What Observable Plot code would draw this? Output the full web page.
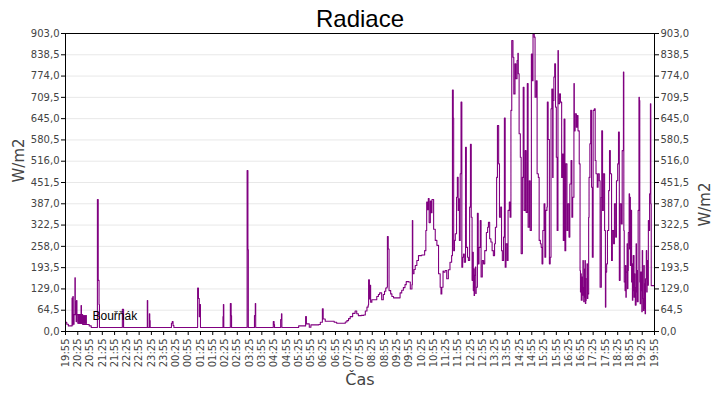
<!DOCTYPE html>
<html><head><meta charset="utf-8">
<script src="https://cdn.jsdelivr.net/npm/d3@7"></script>
<script src="https://cdn.jsdelivr.net/npm/@observablehq/plot@0.6"></script>
<style>
body{margin:0;background:#fff;}
#wrap{position:relative;width:720px;height:400px;}
#title{position:absolute;left:0;top:5px;width:720px;text-align:center;font:24px "Liberation Sans",Arial,sans-serif;color:#000;line-height:normal;}
</style></head><body>
<div id="wrap"><div id="title"></div></div>
<script>
const chartTitle = "Radiace";
const yLabel = "W/m2";
const xLabel = "Čas";
const seriesName = "Bouřňák";

const yTicks = [0, 64.5, 129, 193.5, 258, 322.5, 387, 451.5, 516, 580.5, 645, 709.5, 774, 838.5, 903];
const xTickLabels = ["19:55","20:25","20:55","21:25","21:55","22:25","22:55","23:25","23:55","00:25","00:55","01:25","01:55","02:25","02:55","03:25","03:55","04:25","04:55","05:25","05:55","06:25","06:55","07:25","07:55","08:25","08:55","09:25","09:55","10:25","10:55","11:25","11:55","12:25","12:55","13:25","13:55","14:25","14:55","15:25","15:55","16:25","16:55","17:25","17:55","18:25","18:55","19:25","19:55"];

// [time, W/m2]
const evening = [["19:55",28],["19:58",22],["20:02",17],["20:10",17],["20:11",101],["20:12",20],["20:13",106],["20:14",51],["20:15",22],["20:16",51],["20:18",163],["20:19",51],["20:20",91],["20:21",30],["20:22",94],["20:23",51],["20:25",25],["20:26",51],["20:28",30],["20:29",51],["20:30",25],["20:31",51],["20:33",79],["20:34",51],["20:35",25],["20:36",51],["20:37",21],["20:46",21],["20:53",17],["20:58",12],["21:12",12],["21:13",400],["21:15",155],["21:17",82],["21:18",12],["22:13",12],["22:14",67],["22:16",67],["22:17",12],["23:14",12],["23:15",94],["23:16",12],["23:19",12],["23:20",54],["23:21",33],["23:22",12]];
const night = [["00:13",12],["00:14",25],["00:16",30],["00:18",18],["00:20",12],["01:17",12],["01:18",132],["01:20",100],["01:22",45],["01:24",82],["01:25",12],["02:19",12],["02:20",45],["02:21",82],["02:22",12],["02:37",12],["02:38",85],["02:40",48],["02:41",12],["03:18",12],["03:19",488],["03:21",248],["03:22",12],["03:36",12],["03:37",48],["03:39",85],["03:40",12],["04:22",12],["04:23",30],["04:25",21],["04:26",12],["04:40",12],["04:41",36],["04:43",54],["04:44",12],["05:24",12]];
const morning = [["05:25",17],["05:41",17],["05:42",45],["05:44",23],["05:51",13],["05:55",20],["06:14",21],["06:18",28],["06:22",28],["06:23",69],["06:25",38],["06:30",31],["06:46",31],["06:52",28],["06:58",25],["07:15",25],["07:19",29],["07:23",33],["07:27",39],["07:31",45],["07:37",55],["07:43",62],["07:47",54],["07:51",48],["07:58",49],["08:04",50],["08:08",62],["08:12",74],["08:15",80],["08:16",157],["08:18",99],["08:19",140],["08:21",89],["08:24",96],["08:32",96],["08:36",106],["08:40",112],["08:43",117],["08:48",96],["08:52",112],["08:55",122],["08:58",132],["09:01",135],["09:02",288],["09:04",250],["09:06",124],["09:10",114],["09:13",106],["09:17",102],["09:29",102],["09:33",117],["09:37",125],["09:41",133],["09:45",142],["09:48",151],["09:54",150],["09:58",129],["10:02",142],["10:03",336],["10:04",175],["10:07",188],["10:10",200],["10:14",215],["10:18",230],["10:26",232],["10:33",245],["10:36",306],["10:38",392],["10:40",369],["10:42",403],["10:44",330],["10:47",395],["10:49",360],["10:51",400],["10:55",310],["10:59",276],["11:03",261],["11:07",175],["11:11",134],["11:13",114],["11:15",134],["11:18",183],["11:19",180],["11:23",185],["11:27",160],["11:31",187],["11:35",210],["11:39",230]];
const midday = [["11:41",732],["11:43",647],["11:44",245],["11:46",276],["11:48",296],["11:51",407],["11:53",467],["11:55",367],["11:57",402],["11:58",276],["12:00",478],["12:02",695],["12:04",195],["12:06",225],["12:08",235],["12:10",210],["12:13",558],["12:15",255],["12:18",225],["12:20",215],["12:23",377],["12:25",567],["12:27",346],["12:29",155],["12:30",240],["12:32",124],["12:33",190],["12:34",109],["12:35",170],["12:37",195],["12:38",115],["12:39",134],["12:42",358],["12:44",205],["12:46",255],["12:49",336],["12:51",165],["12:54",215],["12:57",205],["13:00",245],["13:04",300],["13:07",316],["13:09",331],["13:12",281],["13:15",271],["13:18",245],["13:21",230],["13:24",266],["13:26",316],["13:29",467],["13:31",624],["13:34",508],["13:36",346],["13:39",377],["13:41",245],["13:43",215],["13:46",286],["13:48",647],["13:50",195],["13:52",266],["13:55",215],["13:57",367],["14:00",392],["14:02",346],["14:04",670],["14:06",882],["14:09",831],["14:11",720],["14:14",811],["14:16",766],["14:19",821],["14:21",843],["14:22",781],["14:24",599],["14:27",528],["14:29",236],["14:32",467],["14:34",740],["14:36",367],["14:39",548],["14:41",361],["14:44",751],["14:46",316],["14:49",457],["14:51",306],["14:54",841],["14:56",760],["14:58",902],["15:01",892],["15:03",710],["15:06",760],["15:08",478],["15:11",467],["15:13",276],["15:16",266]];
const afternoon = [["15:18",255],["15:20",205],["15:22",306],["15:25",387],["15:27",225],["15:29",367],["15:32",377],["15:33",695],["15:35",582],["15:38",205],["15:40",225],["15:42",675],["15:44",735],["15:46",467],["15:47",700],["15:49",771],["15:51",811],["15:53",680],["15:55",528],["15:57",306],["15:59",851],["16:00",690],["16:03",720],["16:05",695],["16:08",467],["16:10",538],["16:12",276],["16:14",644],["16:16",245],["16:18",508],["16:21",306],["16:23",387],["16:26",286],["16:28",447],["16:31",518],["16:33",346],["16:35",407],["16:38",751],["16:39",608],["16:41",660],["16:44",619],["16:46",654],["16:48",608],["16:51",508],["16:53",185],["16:54",120],["16:55",175],["16:56",95],["16:58",165],["16:59",110],["17:00",215],["17:01",134],["17:02",90],["17:03",104],["17:04",190],["17:05",215],["17:06",85],["17:07",94],["17:08",160],["17:10",205],["17:11",100],["17:12",114],["17:14",346],["17:15",467],["17:17",569],["17:19",670],["17:21",437],["17:23",225],["17:25",670],["17:28",675],["17:30",518],["17:32",478],["17:35",437],["17:37",478],["17:40",457],["17:42",134],["17:45",407],["17:46",608],["17:48",367],["17:50",478],["17:53",306],["17:55",74],["17:56",180],["17:58",205],["18:00",306],["18:03",427],["18:05",548],["18:07",478],["18:10",215],["18:12",306],["18:15",266],["18:17",387],["18:20",286],["18:22",457],["18:25",508],["18:27",604],["18:29",155],["18:31",387],["18:34",326],["18:36",548],["18:39",786],["18:40",306],["18:41",150],["18:43",124],["18:44",200],["18:45",104],["18:46",180],["18:48",266],["18:49",130],["18:50",185],["18:51",300],["18:53",417],["18:54",250],["18:55",407],["18:56",200],["18:57",367],["18:59",150],["19:00",205],["19:01",95],["19:02",124],["19:03",230],["19:05",104],["19:06",175],["19:07",134],["19:08",80],["19:10",266],["19:11",120],["19:12",185],["19:13",90],["19:15",367],["19:17",710],["19:18",700],["19:19",150],["19:20",84],["19:21",180],["19:23",124],["19:24",60],["19:25",245],["19:26",100],["19:28",64],["19:29",200],["19:30",145],["19:31",70],["19:32",54],["19:33",160],["19:35",245],["19:36",120],["19:37",215],["19:39",140],["19:40",336],["19:41",306],["19:43",417],["19:45",690],["19:46",387],["19:47",139],["19:55",139]];

// convert a run of "HH:MM" strings into dates, rolling over midnight
function toDates(times) {
  let day = 0, prev = -1;
  return times.map(t => {
    const [h, m] = t.split(":").map(Number);
    const mins = h * 60 + m;
    if (prev >= 0 && mins < prev) day++;
    prev = mins;
    return new Date(Date.UTC(2000, 0, 1 + day, h, m));
  });
}

const rows = [...evening, ...night, ...morning, ...midday, ...afternoon];
const rowDates = toDates(rows.map(r => r[0]));
const data = rows.map((r, i) => ({time: rowDates[i], value: r[1]}));

const tickDates = toDates(xTickLabels);
const tickMap = new Map(tickDates.map((d, i) => [+d, xTickLabels[i]]));
const fmtY = d => d3.format(".1f")(d).replace(".", ",");

document.getElementById("title").textContent = chartTitle;

const color = "#800080";
const tickFont = "'DejaVu Sans', sans-serif";

const chart = Plot.plot({
  width: 720,
  height: 400,
  marginLeft: 65,
  marginRight: 66,
  marginTop: 33,
  marginBottom: 69,
  style: {fontFamily: tickFont, fontSize: "10px", color: "#000", background: "transparent"},
  x: {type: "utc", domain: [tickDates[0], tickDates[tickDates.length - 1]]},
  y: {domain: [0, 903]},
  marks: [
    Plot.gridY(yTicks, {stroke: "#e8e8e8", strokeOpacity: 1}),
    Plot.line(data, {x: "time", y: "value", stroke: color, strokeWidth: 1.1, curve: "step-after"}),
    Plot.frame({stroke: "#000"}),
    Plot.axisY(yTicks, {anchor: "left", tickFormat: fmtY, tickSize: 4, tickPadding: 2, label: null, fill: "#444"}),
    Plot.axisY(yTicks, {anchor: "right", tickFormat: fmtY, tickSize: 4, tickPadding: 2, label: null, fill: "#444"}),
    Plot.axisX(tickDates, {tickFormat: d => tickMap.get(+d), tickRotate: -90, tickSize: 4, tickPadding: 3, label: null, fill: "#444"}),
    Plot.text([yLabel], {frameAnchor: "left", dx: -46, rotate: -90, fontSize: 15, fill: "#444"}),
    Plot.text([yLabel], {frameAnchor: "right", dx: 51, rotate: -90, fontSize: 15, fill: "#444"}),
    Plot.text([xLabel], {frameAnchor: "bottom", dy: 53, fontSize: 16, fill: "#444"}),
    Plot.dot([seriesName], {frameAnchor: "bottom-left", dx: 17, dy: -12, symbol: "square", r: 5, fill: color, stroke: null}),
    Plot.text([seriesName], {frameAnchor: "bottom-left", dx: 27, dy: -12, textAnchor: "start", fontSize: 12, fill: "#000", fontFamily: "'Liberation Sans', Arial, sans-serif"})
  ]
});
document.getElementById("wrap").appendChild(chart);
</script></body></html>
